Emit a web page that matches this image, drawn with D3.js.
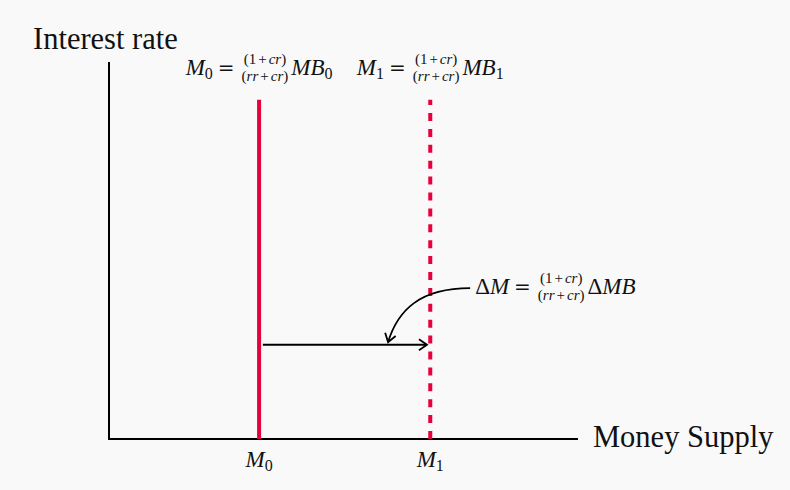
<!DOCTYPE html>
<html><head><meta charset="utf-8">
<script src="https://cdn.jsdelivr.net/npm/d3@7"></script>
<style>html,body{margin:0;padding:0;background:#f9f9f9;} svg{display:block;}</style>
</head><body>
<svg id="chart" width="790" height="490"></svg>
<script>
// ---- data ----
const supplyLevels = [3.2, 6.85];          // M0, M1 on the money-supply axis
const supplyNames = ["M", "M"];
const supplySubs = ["0", "1"];
const supplyTop = 9;                        // top of the vertical supply lines
const shiftRate = 2.5;                      // height of the horizontal shift arrow
const shiftFrom = [3.28];
const shiftTo = [6.78];
const curvePoints = [[7.7, 4.0], [6.63, 4.0], [6.16, 3.42], [5.95, 2.57]];
const axisTitles = ["Interest rate", "Money Supply"];
const numTokens = [["(1", "r"], ["+", "op"], ["cr", "i"], [")", "r"]];
const denTokens = [["(", "r"], ["rr", "i"], ["+", "op"], ["cr", "i"], [")", "r"]];
const formulaM0 = [["M", "i"], ["0", "sub"], ["=", "op"], ["", "frac"], ["MB", "i"], ["0", "sub"]];
const formulaM1 = [["M", "i"], ["1", "sub"], ["=", "op"], ["", "frac"], ["MB", "i"], ["1", "sub"]];
const formulaDelta = [["Δ", "r"], ["M", "i"], ["=", "op"], ["", "frac"], ["Δ", "r"], ["MB", "i"]];

// ---- setup ----
const W = 790, H = 490;
const svg = d3.select("#chart");
svg.append("rect").attr("width", W).attr("height", H).attr("fill", "#f9f9f9");
const FONT = "'Liberation Serif','Times New Roman',serif";
const OPFONT = "'DejaVu Serif','Liberation Serif',serif";
const RED = "#e6003c";

const x = d3.scaleLinear().domain([0, 10]).range([109, 578]);
const y = d3.scaleLinear().domain([0, 10]).range([439, 62]);

const defs = svg.append("defs");
defs.append("marker").attr("id", "head")
  .attr("viewBox", "-10 -7 12 14").attr("refX", 0).attr("refY", 0)
  .attr("markerWidth", 12).attr("markerHeight", 14)
  .attr("markerUnits", "userSpaceOnUse").attr("orient", "auto")
  .append("path").attr("d", "M-8,-5.5 L0,0 L-8,5.5")
  .attr("fill", "none").attr("stroke", "#000").attr("stroke-width", 1.8);

// axes
svg.append("line").attr("x1", x(0)).attr("x2", x(0)).attr("y1", y(0) + 1).attr("y2", y(10))
  .attr("stroke", "#000").attr("stroke-width", 2);
svg.append("line").attr("x1", x(0) - 1).attr("x2", x(10)).attr("y1", y(0)).attr("y2", y(0))
  .attr("stroke", "#000").attr("stroke-width", 2);

svg.append("text").attr("x", 33).attr("y", 49).attr("font-family", FONT)
  .attr("font-size", 30.5).attr("fill", "#111").text(axisTitles[0]);
svg.append("text").attr("x", 593).attr("y", 447).attr("font-family", FONT)
  .attr("font-size", 30.5).attr("fill", "#111").text(axisTitles[1]);

// supply lines
svg.selectAll("line.supply").data(supplyLevels).join("line")
  .attr("class", "supply")
  .attr("x1", d => x(d)).attr("x2", d => x(d))
  .attr("y1", y(0)).attr("y2", y(supplyTop))
  .attr("stroke", RED).attr("stroke-width", 4)
  .attr("stroke-dasharray", (d, i) => i === 0 ? null : "8,7.9");

// shift arrow
svg.selectAll("line.shift").data(shiftFrom).join("line")
  .attr("class", "shift")
  .attr("x1", d => x(d)).attr("x2", (d, i) => x(shiftTo[i]))
  .attr("y1", y(shiftRate)).attr("y2", y(shiftRate))
  .attr("stroke", "#000").attr("stroke-width", 1.8).attr("marker-end", "url(#head)");

// curved annotation arrow
const cp = curvePoints.map(p => [x(p[0]), y(p[1])]);
svg.append("path")
  .attr("d", `M${cp[0][0]},${cp[0][1]} C${cp[1][0]},${cp[1][1]} ${cp[2][0]},${cp[2][1]} ${cp[3][0]},${cp[3][1]}`)
  .attr("fill", "none").attr("stroke", "#000").attr("stroke-width", 1.8).attr("marker-end", "url(#head)");

// ---- math text helpers ----
const MAIN = 23, SUB = 16, FRAC = 15, OP = 20;
function txt(g, px, base, s, size, italic, fam) {
  const t = g.append("text").attr("x", px).attr("y", base).attr("font-family", fam || FONT)
    .attr("font-size", size).attr("fill", "#111")
    .attr("font-style", italic ? "italic" : "normal").text(s);
  return t.node().getComputedTextLength();
}
function fracLine(g, base, tokens) {
  const t = g.append("text").attr("y", base).attr("font-family", FONT)
    .attr("font-size", FRAC).attr("fill", "#111");
  tokens.forEach(([s, type], i) => {
    const ts = t.append("tspan").text(s).attr("font-style", type === "i" ? "italic" : "normal");
    if (type === "op" || (i > 0 && tokens[i - 1][1] === "op")) ts.attr("dx", 2);
  });
  return t;
}
function drawFrac(g, px, base) {
  const n = fracLine(g, base - 11, numTokens);
  const d = fracLine(g, base + 6, denTokens);
  n.attr("x", 0); d.attr("x", 0);
  const wn = n.node().getBBox().width, wd = d.node().getBBox().width;
  const w = Math.max(wn, wd);
  n.attr("x", px + (w - wn) / 2);
  d.attr("x", px + (w - wd) / 2);
  return w;
}
function layout(g, tokens, base) {
  let cx = 0;
  tokens.forEach(([s, type]) => {
    if (type === "op") { cx += 5; cx += txt(g, cx, base - 0.5, s, OP, false, OPFONT) + 7; }
    else if (type === "frac") { cx += drawFrac(g, cx, base) + 3; }
    else if (type === "sub") { cx += txt(g, cx, base + 4, s, SUB, false); }
    else if (type === "i") { cx += txt(g, cx, base, s, MAIN, true); }
    else { cx += txt(g, cx, base, s, MAIN, false); }
  });
  return cx;
}

// formulas above the lines
[formulaM0, formulaM1].forEach((f, i) => {
  const g = svg.append("g");
  const w = layout(g, f, 75);
  g.attr("transform", `translate(${x(supplyLevels[i]) - w / 2},0)`);
});
// delta formula next to the curve start
{
  const g = svg.append("g");
  layout(g, formulaDelta, 0);
  g.attr("transform", `translate(${cp[0][0] + 5},${cp[0][1] + 6})`);
}

// tick labels M0, M1
supplyLevels.forEach((v, i) => {
  const g = svg.append("g");
  const w = layout(g, [[supplyNames[i], "i"], [supplySubs[i], "sub"]], 467);
  g.attr("transform", `translate(${x(v) - w / 2},0)`);
});
</script>
</body></html>
